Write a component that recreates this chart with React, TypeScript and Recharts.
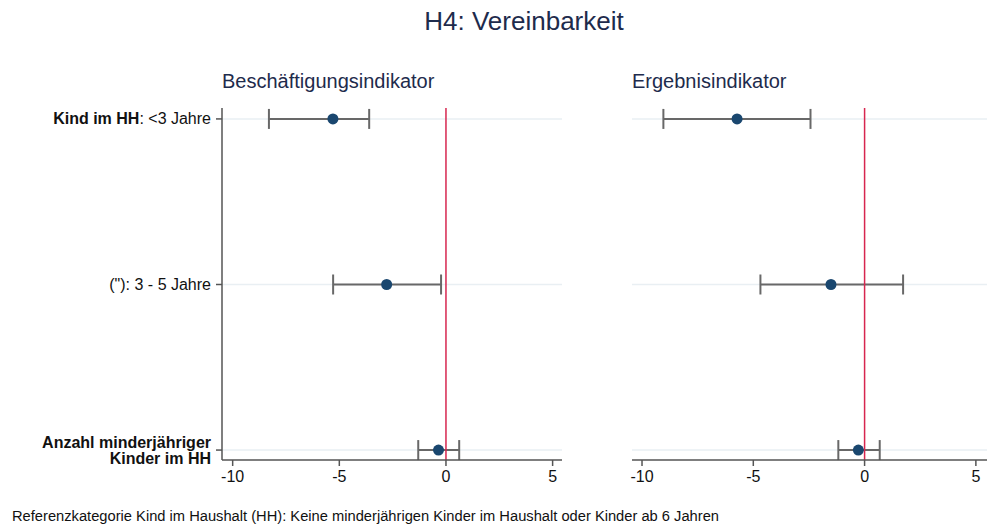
import React from 'react';
import {
  ScatterChart,
  Scatter,
  XAxis,
  YAxis,
  ErrorBar,
  ReferenceLine,
} from 'recharts';

// rows from top to bottom
const ROW_POS = [2, 1, 0];
const X_TICKS = [-10, -5, 0, 5];

// Beschäftigungsindikator
const empEst = [-5.3, -2.78, -0.35];
const empLow = [-8.3, -5.29, -1.3];
const empHigh = [-3.6, -0.23, 0.62];

// Ergebnisindikator
const resEst = [-5.73, -1.51, -0.28];
const resLow = [-9.04, -4.68, -1.18];
const resHigh = [-2.43, 1.73, 0.68];

const FONT = '"Liberation Sans", Arial, sans-serif';
const NAVY = '#1a476f';
const TITLE_COLOR = '#1e2b4c';
const AXIS_COLOR = '#555555';
const GRID_COLOR = '#e9eff3';
const REF_COLOR = '#d7264f';

function buildRows(est: number[], low: number[], high: number[]) {
  return est.map((v, i) => ({ y: ROW_POS[i], x: v, err: [v - low[i], high[i] - v] }));
}

const empData = buildRows(empEst, empLow, empHigh);
const resData = buildRows(resEst, resLow, resHigh);

function YTick(props: any) {
  const { x, y, payload } = props;
  const tx = x - 3;
  const style = { fontFamily: FONT, fontSize: 16, fill: '#111' };
  if (payload.value === 2) {
    return (
      <text x={tx} y={y} dy={5.5} textAnchor="end" style={style}>
        <tspan fontWeight="bold">Kind im HH</tspan>
        <tspan>: &lt;3 Jahre</tspan>
      </text>
    );
  }
  if (payload.value === 1) {
    return (
      <text x={tx} y={y} dy={5.5} textAnchor="end" style={style}>
        ("): 3 - 5 Jahre
      </text>
    );
  }
  return (
    <text x={tx} y={y} textAnchor="end" style={{ ...style, fontWeight: 'bold' }}>
      <tspan x={tx} dy={-2.5}>Anzahl minderjähriger</tspan>
      <tspan x={tx} dy={16}>Kinder im HH</tspan>
    </text>
  );
}

const dot = (p: any) => <circle cx={p.cx} cy={p.cy} r={5.5} fill={NAVY} />;

function Panel({ data, domain, showY, width, margin }: any) {
  return (
    <ScatterChart width={width} height={400} margin={margin}>
      <XAxis
        type="number"
        dataKey="x"
        domain={domain}
        allowDataOverflow
        ticks={X_TICKS}
        height={40}
        tickSize={6}
        tickMargin={5}
        stroke={AXIS_COLOR}
        strokeWidth={1.5}
        tick={{ fontFamily: FONT, fontSize: 16, fill: '#111' }}
      />
      <YAxis
        type="number"
        dataKey="y"
        domain={[-0.06, 2.066]}
        allowDataOverflow
        ticks={ROW_POS}
        hide={!showY}
        width={222}
        tickSize={6}
        stroke={AXIS_COLOR}
        strokeWidth={1.5}
        tick={<YTick />}
      />
      {ROW_POS.map((r) => (
        <ReferenceLine key={r} y={r} stroke={GRID_COLOR} strokeWidth={1.5} />
      ))}
      <Scatter data={data} shape={dot} isAnimationActive={false}>
        <ErrorBar dataKey="err" direction="x" width={10} stroke="#686868" strokeWidth={2} isAnimationActive={false} />
      </Scatter>
      <ReferenceLine x={0} stroke={REF_COLOR} strokeWidth={1.5} />
    </ScatterChart>
  );
}

export default function App() {
  return (
    <div style={{ position: 'absolute', left: 0, top: 0, width: 993, height: 526, background: '#fff', fontFamily: FONT }}>
      <div style={{ position: 'absolute', left: 0, width: 1048, top: 6, textAlign: 'center', fontSize: 26, color: TITLE_COLOR }}>
        H4: Vereinbarkeit
      </div>
      <div style={{ position: 'absolute', left: 222, top: 70, fontSize: 20, color: TITLE_COLOR }}>
        Beschäftigungsindikator
      </div>
      <div style={{ position: 'absolute', left: 632, top: 70, fontSize: 20, color: TITLE_COLOR }}>
        Ergebnisindikator
      </div>
      <div style={{ position: 'absolute', left: 0, top: 100 }}>
        <Panel
          data={empData}
          domain={[-10.5, 5.44]}
          showY
          width={575}
          margin={{ top: 8, right: 13, left: 0, bottom: 0 }}
        />
      </div>
      <div style={{ position: 'absolute', left: 600, top: 100 }}>
        <Panel
          data={resData}
          domain={[-10.45, 5.5]}
          showY={false}
          width={393}
          margin={{ top: 8, right: 6, left: 32, bottom: 0 }}
        />
      </div>
      <div style={{ position: 'absolute', left: 12, top: 508, fontSize: 14.7, color: '#111' }}>
        Referenzkategorie Kind im Haushalt (HH): Keine minderjährigen Kinder im Haushalt oder Kinder ab 6 Jahren
      </div>
    </div>
  );
}
